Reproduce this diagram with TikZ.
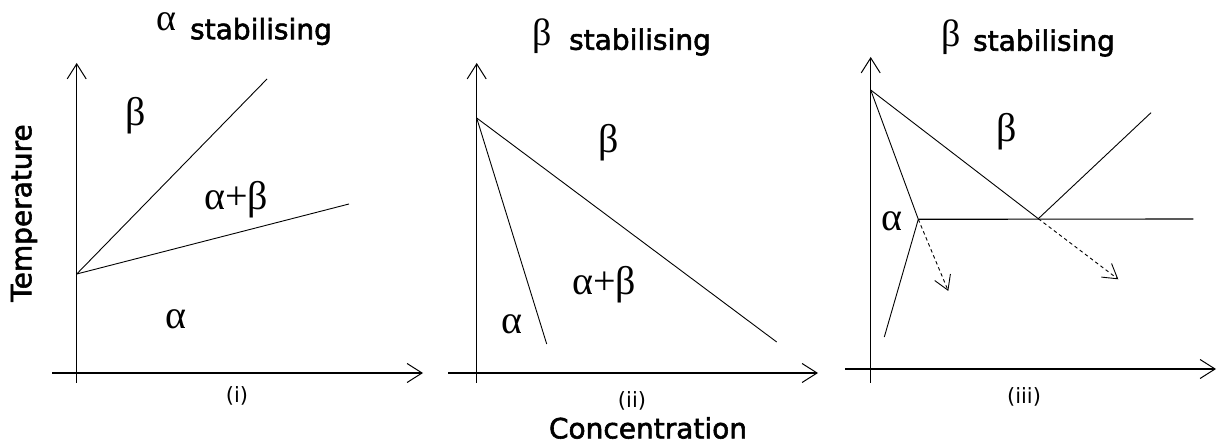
\documentclass[tikz,border=0pt]{standalone}
\usepackage{fontspec}
\setmainfont{DejaVu Sans}
\newfontfamily\lab{DejaVu Sans}[FakeBold=2]
\newfontfamily\grk{Liberation Serif}
\usetikzlibrary{arrows.meta}
\begin{document}
\begin{tikzpicture}[x=1pt,y=-1pt,
  ax/.style={line width=1.1pt,-{Straight Barb[length=15pt,width=19pt,line width=1pt]}},
  ph/.style={line width=0.9pt},
  dsh/.style={line width=0.9pt,dash pattern=on 3.5pt off 3pt,-{Straight Barb[length=14pt,width=17pt,line width=0.9pt]}},
  greek/.style={inner sep=0pt},
  ttl/.style={font=\lab\fontsize{28}{28}\selectfont, inner sep=0pt},
  num/.style={font=\fontsize{21}{21}\selectfont, inner sep=0pt},
]
\newcommand\gkL[1]{{\grk\fontsize{40}{40}\selectfont #1}}
\newcommand\gkT[1]{{\grk\fontsize{38}{38}\selectfont #1}}
\useasboundingbox (0,0) rectangle (1218,443);
% ---------- panel (i)
\coordinate (y1b) at (76.7,383); \coordinate (y1t) at (76.7,63);
\coordinate (x1l) at (52,373);   \coordinate (x1r) at (423,373);
\coordinate (p1) at (76.7,274);
\coordinate (p1a) at (267,79);   \coordinate (p1b) at (349,204);
\draw[ax] (y1b) -- (y1t);
\draw[ax] (x1l) -- (x1r);
\draw[ph] (p1) -- (p1a);
\draw[ph] (p1) -- (p1b);
\node[greek] (t1g) at (166,22) {\gkT{α}};
\node[ttl] (t1s) at (261,31.5) {stabilising};
\node[greek] (l1b) at (136,116) {\gkL{β}};
\node[greek] (l1ab) at (236,200) {\gkL{α+β}};
\node[greek] (l1a) at (176,319) {\gkL{α}};
\node[num] (n1) at (237,396) {(i)};
\node[ttl,rotate=90] (temp) at (24,213) {Temperature};
% ---------- panel (ii)
\coordinate (y2b) at (476.7,383); \coordinate (y2t) at (476.7,63);
\coordinate (x2l) at (448,373);   \coordinate (x2r) at (818,373);
\coordinate (p2) at (476.7,118);
\coordinate (p2a) at (546.7,344); \coordinate (p2b) at (776.7,342);
\draw[ax] (y2b) -- (y2t);
\draw[ax] (x2l) -- (x2r);
\draw[ph] (p2) -- (p2a);
\draw[ph] (p2) -- (p2b);
\node[greek] (t2g) at (542,36) {\gkT{β}};
\node[ttl] (t2s) at (640,42) {stabilising};
\node[greek] (l2b) at (609,143) {\gkL{β}};
\node[greek] (l2ab) at (604,285) {\gkL{α+β}};
\node[greek] (l2a) at (512,324) {\gkL{α}};
\node[num] (n2) at (632,401) {(ii)};
\node[ttl] (conc) at (648,428) {Concentration};
% ---------- panel (iii)
\coordinate (y3b) at (870.7,383); \coordinate (y3t) at (870.7,57);
\coordinate (x3l) at (845,369);   \coordinate (x3r) at (1216,369);
\coordinate (p3) at (870.7,90);
\coordinate (q1) at (918.3,219.3); \coordinate (q1b) at (884.3,337);
\coordinate (q2) at (1038.3,218.7); \coordinate (q2b) at (1151,112.7);
\coordinate (hr) at (1193.3,219);
\coordinate (d1) at (948.3,291); \coordinate (d2) at (1118.3,279.3);
\draw[ax] (y3b) -- (y3t);
\draw[ax] (x3l) -- (x3r);
\draw[ph] (p3) -- (q1) -- (q1b);
\draw[ph] (p3) -- (q2) -- (q2b);
\draw[line width=1.1pt] (q1) -- (hr);
\draw[dsh] (q1) -- (d1);
\draw[dsh] (q2) -- (d2);
\node[greek] (t3g) at (951,37.5) {\gkT{β}};
\node[ttl] (t3s) at (1044,43) {stabilising};
\node[greek] (l3b) at (1007,132) {\gkL{β}};
\node[greek] (l3a) at (892,221) {\gkL{α}};
\node[num] (n3) at (1024,397) {(iii)};
\end{tikzpicture}
\end{document}
